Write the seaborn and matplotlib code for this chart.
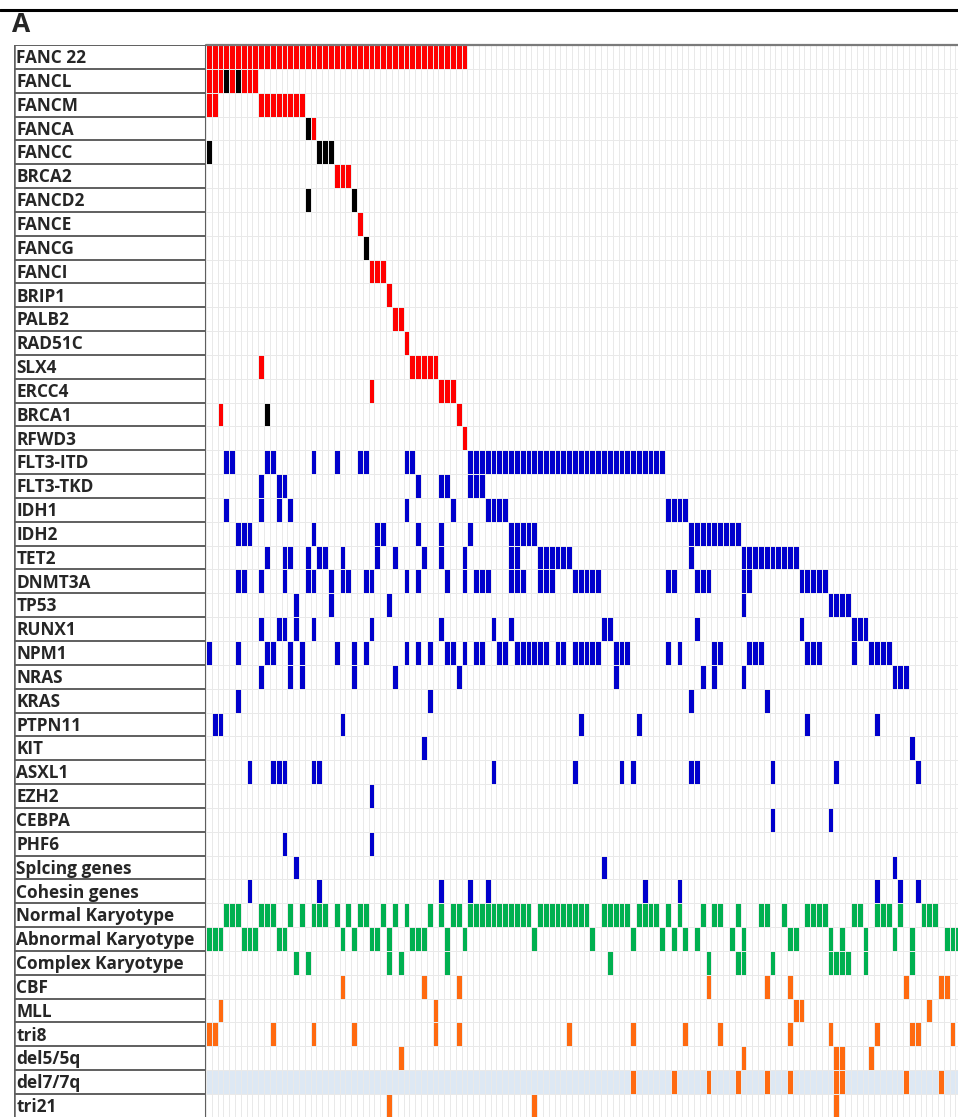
import numpy as np
import pandas as pd
import matplotlib
matplotlib.use("Agg")
import matplotlib.pyplot as plt
import seaborn as sns
from matplotlib.colors import ListedColormap
from matplotlib.lines import Line2D

genes = ["FANC 22", "FANCL", "FANCM", "FANCA", "FANCC", "BRCA2", "FANCD2", "FANCE",
         "FANCG", "FANCI", "BRIP1", "PALB2", "RAD51C", "SLX4", "ERCC4", "BRCA1", "RFWD3",
         "FLT3-ITD", "FLT3-TKD", "IDH1", "IDH2", "TET2", "DNMT3A", "TP53", "RUNX1", "NPM1",
         "NRAS", "KRAS", "PTPN11", "KIT", "ASXL1", "EZH2", "CEBPA", "PHF6", "Splcing genes",
         "Cohesin genes", "Normal Karyotype", "Abnormal Karyotype", "Complex Karyotype",
         "CBF", "MLL", "tri8", "del5/5q", "del7/7q", "tri21"]
n_patients = 130

# FA pathway mutations (red) and second hits (black), by patient column
red = {
    "FANC 22": list(range(0, 45)),
    "FANCL": [0, 1, 2, 4, 6, 7, 8],
    "FANCM": [0, 1, 9, 10, 11, 12, 13, 14, 15, 16],
    "FANCA": [18],
    "BRCA2": [22, 23, 24],
    "FANCE": [26],
    "FANCI": [28, 29, 30],
    "BRIP1": [31],
    "PALB2": [32, 33],
    "RAD51C": [34],
    "SLX4": [9, 35, 36, 37, 38, 39],
    "ERCC4": [28, 40, 41, 42],
    "BRCA1": [2, 43],
    "RFWD3": [44],
}
black = {
    "FANCL": [3, 5],
    "FANCA": [17],
    "FANCC": [0, 19, 20, 21],
    "FANCD2": [17, 25],
    "FANCG": [27],
    "BRCA1": [10],
}
# myeloid driver genes (blue)
blue = {
    "FLT3-ITD": [3, 4, 10, 11, 18, 22, 26, 27, 34, 35] + list(range(45, 79)),
    "FLT3-TKD": [9, 12, 13, 36, 40, 41, 45, 46, 47],
    "IDH1": [3, 9, 12, 14, 34, 42, 48, 49, 50, 51, 79, 80, 81, 82],
    "IDH2": [5, 6, 7, 18, 29, 30, 36, 40, 45, 52, 53, 54, 55, 56] + list(range(83, 92)),
    "TET2": [10, 13, 14, 17, 19, 20, 23, 29, 32, 37, 40, 44, 52, 53, 57, 58, 59, 60, 61, 62, 83]
            + list(range(92, 102)),
    "DNMT3A": [5, 6, 9, 13, 17, 18, 21, 23, 24, 27, 28, 34, 36, 41, 44, 46, 47, 48, 52, 53, 54,
               57, 58, 59, 63, 64, 65, 66, 67, 79, 80, 84, 85, 86, 92, 93, 102, 103, 104, 105, 106],
    "TP53": [15, 21, 31, 92, 107, 108, 109, 110],
    "RUNX1": [9, 12, 13, 15, 18, 28, 40, 49, 52, 68, 69, 84, 102, 111, 112, 113],
    "NPM1": [0, 5, 10, 11, 14, 16, 22, 25, 27, 34, 36, 38, 41, 42, 44, 46, 47, 50, 51, 53, 54, 55,
             56, 57, 58, 60, 61, 63, 64, 65, 66, 67, 70, 71, 72, 79, 81, 87, 88, 93, 94, 95,
             103, 104, 105, 111, 114, 115, 116, 117],
    "NRAS": [9, 14, 16, 25, 32, 43, 70, 85, 87, 92, 118, 119, 120],
    "KRAS": [5, 38, 83, 96],
    "PTPN11": [1, 2, 23, 64, 74, 103, 115],
    "KIT": [37, 121],
    "ASXL1": [7, 11, 12, 13, 18, 19, 49, 63, 71, 73, 83, 84, 97, 108, 122],
    "EZH2": [28],
    "CEBPA": [97, 107],
    "PHF6": [13, 28],
    "Splcing genes": [15, 68, 118],
    "Cohesin genes": [7, 19, 40, 45, 48, 75, 81, 115, 119, 122],
}
# karyotype (green)
green = {
    "Normal Karyotype": [3, 4, 5, 9, 10, 11, 14, 16, 18, 19, 20, 22, 24, 26, 27, 30, 32, 34, 38,
                         40, 42, 43] + list(range(45, 56)) + list(range(57, 66))
                        + list(range(68, 73)) + [74, 75, 76, 77, 79, 81, 85, 87, 88, 91, 95, 96,
                                                 99, 103, 104, 105, 106, 111, 112, 115, 116, 117,
                                                 119, 123, 124, 125],
    "Abnormal Karyotype": [0, 1, 2, 6, 7, 8, 12, 13, 23, 25, 28, 29, 31, 35, 36, 37, 41, 44, 56,
                           66, 73, 78, 80, 82, 84, 90, 92, 100, 101, 107, 109, 113, 118, 121,
                           127, 128, 129],
    "Complex Karyotype": [15, 17, 31, 33, 41, 69, 86, 91, 92, 97, 107, 108, 109, 110, 113, 121],
}
# cytogenetic groups (orange)
orange = {
    "CBF": [23, 37, 43, 86, 96, 100, 120, 126, 127],
    "MLL": [2, 39, 101, 102, 124],
    "tri8": [0, 1, 11, 18, 25, 39, 43, 62, 73, 82, 88, 100, 107, 115, 121, 122, 128],
    "del5/5q": [33, 92, 108, 109, 114],
    "del7/7q": [73, 80, 86, 91, 96, 100, 108, 109, 120, 126],
    "tri21": [31, 56, 108],
}
shaded_row = "del7/7q"

palette = ["#ffffff", "#ff0000", "#000000", "#0000cc", "#00b050", "#ff6a10", "#dde8f4"]

codes = np.zeros((len(genes), n_patients))
codes[genes.index(shaded_row), :] = 6
for code, group in [(1, red), (2, black), (3, blue), (4, green), (5, orange)]:
    for g, cols in group.items():
        codes[genes.index(g), cols] = code
mat = pd.DataFrame(codes, index=genes)

sns.set_style("white")
plt.rcParams['font.family'] = ['Open Sans', 'DejaVu Sans']

W, H = 958, 1117
fig = plt.figure(figsize=(W / 100, H / 100), dpi=100)


def px_axes(x0, y0, x1, y1):
    return fig.add_axes([x0 / W, 1 - y1 / H, (x1 - x0) / W, (y1 - y0) / H])


row_h = 23.84
n_vis = (H - 45) / row_h

ax = px_axes(206, 45, W, H)
sns.heatmap(mat, ax=ax, cmap=ListedColormap(palette), vmin=-0.5, vmax=6.5, cbar=False,
            linewidths=0.7, linecolor="#e9e9e9", xticklabels=False, yticklabels=False)
ax.set_xlim(0, (W - 206) / 5.81)
ax.set_ylim(n_vis, 0)
ax.set_xlabel("")
ax.set_ylabel("")
ax.axhline(0, color="#7a7a7a", lw=1.6, clip_on=False)

axl = px_axes(14, 45, 206, H)
axl.set_xlim(0, 1)
axl.set_ylim(n_vis, 0)
axl.axis("off")
for i in range(len(genes) + 1):
    axl.axhline(i, color="#5f5f5f", lw=1.4)
axl.axvline(0, color="#5f5f5f", lw=1.8)
axl.axvline(1, color="#5f5f5f", lw=1.5)
for i, g in enumerate(genes):
    axl.text(0.012, i + 0.55, g, fontsize=12.4, fontweight="bold", va="center", ha="left")

fig.add_artist(Line2D([0, 1], [1 - 9.5 / H] * 2, color="black", lw=2.2))
fig.text(12 / W, 1 - 32 / H, "A", fontsize=19, fontweight="bold", va="baseline", ha="left")

fig.savefig("out.png", dpi=100)
